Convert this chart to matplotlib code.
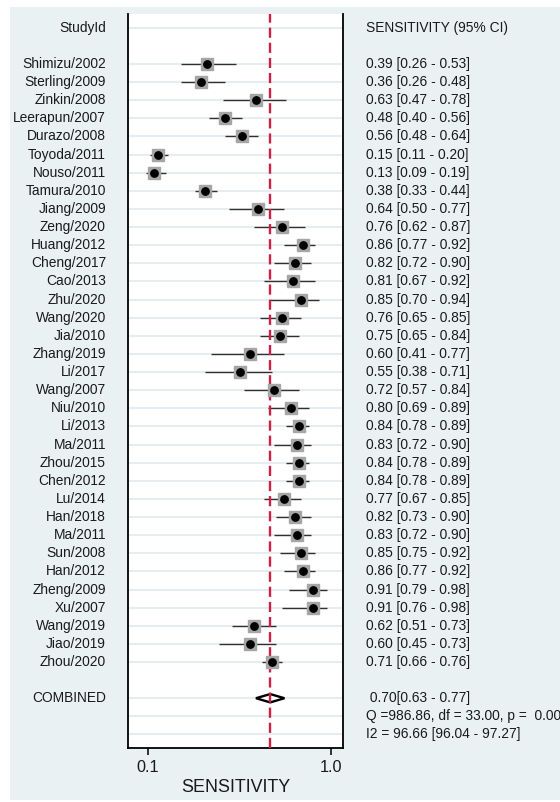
import matplotlib
matplotlib.use('Agg')
import matplotlib.pyplot as plt
from matplotlib.patches import Rectangle, Polygon
from matplotlib.transforms import blended_transform_factory
import numpy as np

plt.rcParams['font.family'] = ['Liberation Sans', 'DejaVu Sans']

studies = ['Shimizu/2002', 'Sterling/2009', 'Zinkin/2008', 'Leerapun/2007', 'Durazo/2008',
           'Toyoda/2011', 'Nouso/2011', 'Tamura/2010', 'Jiang/2009', 'Zeng/2020',
           'Huang/2012', 'Cheng/2017', 'Cao/2013', 'Zhu/2020', 'Wang/2020',
           'Jia/2010', 'Zhang/2019', 'Li/2017', 'Wang/2007', 'Niu/2010',
           'Li/2013', 'Ma/2011', 'Zhou/2015', 'Chen/2012', 'Lu/2014',
           'Han/2018', 'Ma/2011', 'Sun/2008', 'Han/2012', 'Zheng/2009',
           'Xu/2007', 'Wang/2019', 'Jiao/2019', 'Zhou/2020']
sens = [0.39, 0.36, 0.63, 0.48, 0.56, 0.15, 0.13, 0.38, 0.64, 0.76,
        0.86, 0.82, 0.81, 0.85, 0.76, 0.75, 0.60, 0.55, 0.72, 0.80,
        0.84, 0.83, 0.84, 0.84, 0.77, 0.82, 0.83, 0.85, 0.86, 0.91,
        0.91, 0.62, 0.60, 0.71]
lo = [0.26, 0.26, 0.47, 0.40, 0.48, 0.11, 0.09, 0.33, 0.50, 0.62,
      0.77, 0.72, 0.67, 0.70, 0.65, 0.65, 0.41, 0.38, 0.57, 0.69,
      0.78, 0.72, 0.78, 0.78, 0.67, 0.73, 0.72, 0.75, 0.77, 0.79,
      0.76, 0.51, 0.45, 0.66]
hi = [0.53, 0.48, 0.78, 0.56, 0.64, 0.20, 0.19, 0.44, 0.77, 0.87,
      0.92, 0.90, 0.92, 0.94, 0.85, 0.84, 0.77, 0.71, 0.84, 0.89,
      0.89, 0.90, 0.89, 0.89, 0.85, 0.90, 0.90, 0.92, 0.92, 0.98,
      0.98, 0.73, 0.73, 0.76]

pooled = 0.70
pooled_lo = 0.63
pooled_hi = 0.77
q_text = 'Q =986.86, df = 33.00, p =  0.00'
i2_text = 'I2 = 96.66 [96.04 - 97.27]'

tick_vals = [0.1, 1.0]
tick_labels = ['0.1', '1.0']

W, H = 560, 802
fig = plt.figure(figsize=(W / 100, H / 100), dpi=100)
fig.patch.set_facecolor('white')
fig.patches.append(Rectangle((10 / W, 2 / H), 1 - 10 / W, 1 - 9 / H,
                             transform=fig.transFigure, facecolor='#E9F1F3',
                             edgecolor='none', zorder=-10))

ax = fig.add_axes([128.3 / W, 1 - 747.7 / H, 215 / W, 733.7 / H])
ax.set_facecolor('white')

n = len(studies)
y = np.arange(n)
y_head = -2
y_comb = n + 1
y_q = n + 2
y_i2 = n + 3

# light row lines only where there is text
text_rows = [y_head] + list(y) + [y_comb, y_q, y_i2]
for r in text_rows:
    ax.axhline(r, color='#E3ECF0', lw=1.3, zorder=0)

ax.hlines(y, lo, hi, color='#303030', lw=1.0, zorder=1)

h = 0.23
diamond = Polygon([(pooled_lo, y_comb), (pooled, y_comb - h), (pooled_hi, y_comb), (pooled, y_comb + h)],
                  closed=True, facecolor='white', edgecolor='black', lw=1.7, zorder=2)
ax.add_patch(diamond)

vline = ax.axvline(pooled, color='#CE1F45', lw=1.7, zorder=3)
vline.set_dashes((4.3, 2.1))

ax.plot(sens, y, 's', ms=8.8, mfc='#A6A6A6', mec='#A6A6A6', zorder=4)
ax.plot(sens, y, 'o', ms=5.3, mfc='black', mec='black', zorder=5)

ax.set_ylim(37.73, -2.76)
ax.set_xlim(0.003, 1.059)
ax.set_yticks([])
ax.set_xticks(tick_vals)
ax.set_xticklabels(tick_labels)
ax.tick_params(axis='x', direction='out', length=5, width=1.1, labelsize=11.7, pad=4, colors='black',
               labelcolor='#1a1a1a')
ax.set_xlabel('SENSITIVITY', fontsize=12.9, labelpad=3, color='#1a1a1a')
ax.spines['top'].set_visible(False)
for s in ['left', 'right', 'bottom']:
    ax.spines[s].set_linewidth(1.3)
    ax.spines[s].set_color('black')

trans = blended_transform_factory(fig.transFigure, ax.transData)
lx = 106 / W
rx = 366.5 / W
fs = 9.9
tc = '#1a1a1a'

ax.text(lx, y_head, 'StudyId', transform=trans, ha='right', va='center', fontsize=fs, color=tc, clip_on=False)
ax.text(rx, y_head, 'SENSITIVITY (95% CI)', transform=trans, ha='left', va='center', fontsize=fs, color=tc,
        clip_on=False)
for i in range(n):
    ax.text(lx, y[i], studies[i], transform=trans, ha='right', va='center', fontsize=fs, color=tc, clip_on=False)
    ax.text(rx, y[i], f'{sens[i]:.2f} [{lo[i]:.2f} - {hi[i]:.2f}]', transform=trans, ha='left',
            va='center', fontsize=fs, color=tc, clip_on=False)

ax.text(lx, y_comb, 'COMBINED', transform=trans, ha='right', va='center', fontsize=fs, color=tc, clip_on=False)
ax.text(rx, y_comb, f' {pooled:.2f}[{pooled_lo:.2f} - {pooled_hi:.2f}]', transform=trans, ha='left',
        va='center', fontsize=fs, color=tc, clip_on=False)
ax.text(rx, y_q, q_text, transform=trans, ha='left', va='center', fontsize=fs, color=tc, clip_on=False)
ax.text(rx, y_i2, i2_text, transform=trans, ha='left', va='center', fontsize=fs, color=tc, clip_on=False)

fig.savefig('out.png', dpi=100)
plt.close(fig)
